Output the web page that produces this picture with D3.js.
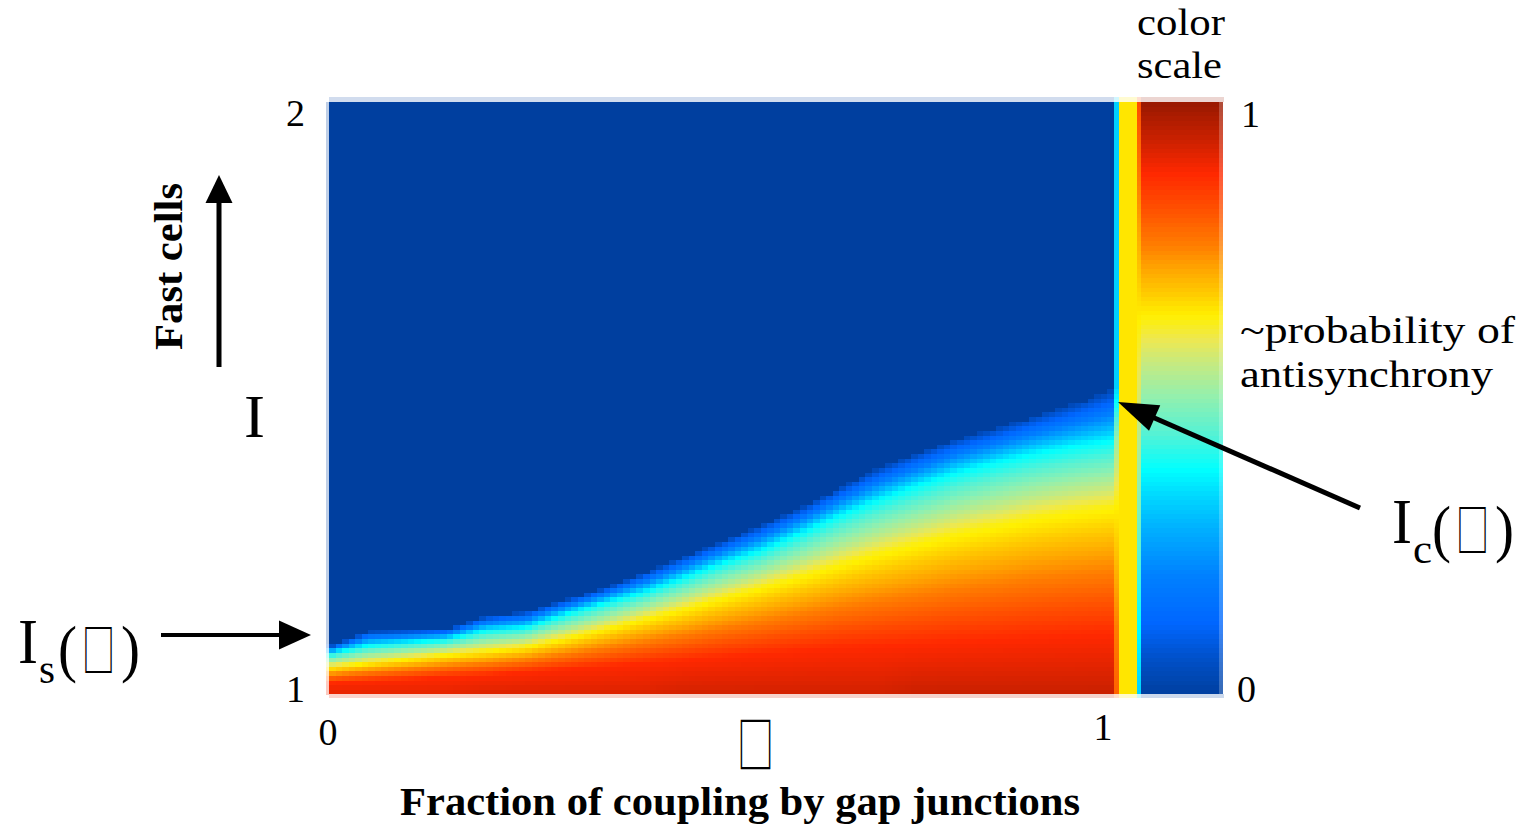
<!DOCTYPE html>
<html>
<head>
<meta charset="utf-8">
<script src="https://cdn.jsdelivr.net/npm/d3@7"></script>
<style>
  html, body { margin: 0; padding: 0; background: #ffffff; overflow: hidden; }
  text { font-family: "Liberation Serif", "Times New Roman", serif; fill: #000; }
</style>
</head>
<body>
<svg id="chart" width="1530" height="829"></svg>
<script>
// Coupling fraction (alpha) sample columns and, for each, the drive I at which
// the probability of antisynchrony reaches given levels.
const alphaCols = [0, 0.05, 0.10, 0.15, 0.20, 0.25, 0.30, 0.35, 0.40, 0.45, 0.50,
                   0.55, 0.60, 0.65, 0.70, 0.75, 0.80, 0.85, 0.90, 0.95, 1.00];
const onsetI  = [1.081, 1.106, 1.108, 1.110, 1.132, 1.139, 1.159, 1.179, 1.204, 1.231, 1.258,
                 1.285, 1.314, 1.348, 1.382, 1.407, 1.431, 1.449, 1.470, 1.490, 1.514];
const cyanI   = [1.069, 1.083, 1.088, 1.093, 1.108, 1.113, 1.135, 1.154, 1.172, 1.196, 1.221,
                 1.243, 1.272, 1.302, 1.329, 1.353, 1.375, 1.392, 1.407, 1.419, 1.429];
const yellowI = [1.046, 1.054, 1.061, 1.068, 1.074, 1.081, 1.095, 1.111, 1.128, 1.145, 1.164,
                 1.182, 1.201, 1.221, 1.240, 1.257, 1.274, 1.287, 1.301, 1.311, 1.319];
const redI    = [1.019, 1.022, 1.025, 1.029, 1.032, 1.037, 1.042, 1.047, 1.052, 1.057, 1.063,
                 1.068, 1.073, 1.078, 1.081, 1.084, 1.088, 1.091, 1.095, 1.098, 1.101];
const baseP   = [0.91, 0.91, 0.91, 0.91, 0.92, 0.92, 0.92, 0.92, 0.92, 0.93, 0.93,
                 0.93, 0.93, 0.93, 0.93, 0.94, 0.94, 0.94, 0.94, 0.94, 0.94];
const levelP  = [0.04, 0.38, 0.63, 0.88];   // probability at onsetI, cyanI, yellowI, redI
const stripP  = 0.65;                        // separator column between map and colour bar

// Colour map
const cmapStops  = [0.00, 0.06, 0.12, 0.20, 0.28, 0.33, 0.38, 0.44, 0.50, 0.56,
                    0.60, 0.64, 0.68, 0.72, 0.76, 0.82, 0.88, 0.94, 1.00];
const cmapColors = ["#003f9f", "#0050c8", "#0066ff", "#0080ff", "#00b0ff", "#00d4ff", "#00ffff",
                    "#55f2d5", "#90f0b0", "#c6ea80", "#eee850", "#fff000", "#ffc800", "#ffa400",
                    "#ff7c00", "#ff5000", "#ff2800", "#c82000", "#981800"];

const xTicks  = [0, 1];
const yTicks  = [1, 2];
const cbTicks = [0, 1];

const nCols = 120, nRows = 128;

const svg = d3.select("#chart");
const x = d3.scaleLinear().domain([0, 1]).range([329, 1114]);
const y = d3.scaleLinear().domain([1, 2]).range([694, 102]);
const cb = d3.scaleLinear().domain([0, 1]).range([694, 102]);
const color = d3.scaleLinear().domain(cmapStops).range(cmapColors)
  .interpolate(d3.interpolateRgb).clamp(true);
const fade = (v, t) => d3.interpolateRgb(color(v), "#ffffff")(t);

const levelAt = [onsetI, cyanI, yellowI, redI].map(arr =>
  d3.scaleLinear().domain(alphaCols).range(arr));
const baseAt = d3.scaleLinear().domain(alphaCols).range(baseP);

function prob(a, I) {
  const on = levelAt[0](a);
  if (I > on) return 0;
  const profile = d3.scaleLinear()
    .domain([1, levelAt[3](a), levelAt[2](a), levelAt[1](a), on])
    .range([baseAt(a), levelP[3], levelP[2], levelP[1], levelP[0]])
    .clamp(true);
  return profile(I);
}

// ---- heat map cells ----
const cells = [];
for (let c = 0; c < nCols; c++) {
  const a0 = c / nCols, a1 = (c + 1) / nCols, ac = (c + 0.5) / nCols;
  let r = 0;
  while (r < nRows) {
    const Ic = 1 + (r + 0.5) / nRows;
    const v = prob(ac, Ic);
    if (v === 0) {
      // merge the uniform region above the boundary into one rect
      cells.push({a0, a1, I0: 1 + r / nRows, I1: 2, v: 0});
      break;
    }
    cells.push({a0, a1, I0: 1 + r / nRows, I1: 1 + (r + 1) / nRows, v});
    r++;
  }
}
const map = svg.append("g").attr("shape-rendering", "crispEdges");
map.selectAll("rect.cell").data(cells).join("rect")
  .attr("class", "cell")
  .attr("x", d => x(d.a0))
  .attr("width", d => x(d.a1) - x(d.a0) + 0.6)
  .attr("y", d => y(d.I1))
  .attr("height", d => y(d.I0) - y(d.I1) + 0.6)
  .attr("fill", d => color(d.v));

// ---- separator strip and colour bar ----
const lastA = 1 - 0.5 / nCols, firstA = 0.5 / nCols;
const rows = d3.range(nRows).map(r => {
  const t0 = r / nRows, t1 = (r + 1) / nRows, tc = (r + 0.5) / nRows;
  return {t0, t1, last: prob(lastA, 1 + tc), first: prob(firstA, 1 + tc), cbv: tc};
});
const columns = [
  {x0: 1114, x1: 1119, f: d => color((d.last + stripP) / 2)},
  {x0: 1119, x1: 1137, f: d => color(stripP)},
  {x0: 1137, x1: 1141, f: d => color((stripP + d.cbv) / 2)},
  {x0: 1141, x1: 1219, f: d => color(d.cbv)},
  {x0: 1219, x1: 1223, f: d => fade(d.cbv, 0.22)},
  {x0: 326,  x1: 329,  f: d => fade(d.first, 0.75)}
];
columns.forEach(col => {
  map.append("g").selectAll("rect").data(rows).join("rect")
    .attr("x", col.x0)
    .attr("width", col.x1 - col.x0)
    .attr("y", d => cb(d.t1))
    .attr("height", d => cb(d.t0) - cb(d.t1) + 0.6)
    .attr("fill", col.f);
});

// soft top / bottom borders of the image
const edgeCols = d3.range(nCols).map(c => ({
  x0: x(c / nCols), x1: x((c + 1) / nCols),
  top: 0, bottom: prob((c + 0.5) / nCols, 1 + 0.5 / nRows)
}));
edgeCols.push({x0: 1114, x1: 1119, top: stripP / 2, bottom: (rows[0].last + stripP) / 2});
edgeCols.push({x0: 1119, x1: 1137, top: stripP, bottom: stripP});
edgeCols.push({x0: 1137, x1: 1141, top: (stripP + 1) / 2, bottom: stripP / 2});
edgeCols.push({x0: 1141, x1: 1223, top: 1, bottom: 0});
map.append("g").selectAll("rect").data(edgeCols).join("rect")
  .attr("x", d => d.x0).attr("width", d => d.x1 - d.x0 + 0.6)
  .attr("y", 97).attr("height", 5)
  .attr("fill", d => fade(d.top, 0.82));
map.append("g").selectAll("rect").data(edgeCols).join("rect")
  .attr("x", d => d.x0).attr("width", d => d.x1 - d.x0 + 0.6)
  .attr("y", 694).attr("height", 4)
  .attr("fill", d => fade(d.bottom, 0.8));

// ---- tick labels ----
const num = svg.append("g").style("font-size", "38px");
num.selectAll("text.xt").data(xTicks).join("text")
  .attr("class", "xt")
  .attr("x", d => d === 0 ? x(d) - 1 : x(d) - 11)
  .attr("y", d => d === 0 ? 745 : 740)
  .attr("text-anchor", "middle")
  .text(d => d);
num.selectAll("text.yt").data(yTicks).join("text")
  .attr("class", "yt")
  .attr("x", 305)
  .attr("y", d => y(d) + (d === 1 ? 8 : 24))
  .attr("text-anchor", "end")
  .text(d => d);
num.selectAll("text.ct").data(cbTicks).join("text")
  .attr("class", "ct")
  .attr("x", d => d === 0 ? 1237 : 1241)
  .attr("y", d => cb(d) + (d === 0 ? 8 : 25))
  .text(d => d);

// ---- labels ----
function label(txt, px, py, size, len, opts = {}) {
  const t = svg.append("text")
    .attr("x", px).attr("y", py)
    .style("font-size", size + "px")
    .attr("textLength", len)
    .attr("lengthAdjust", "spacingAndGlyphs")
    .text(txt);
  if (opts.bold) t.style("font-weight", "bold");
  if (opts.rotate) t.attr("transform", `rotate(-90 ${px} ${py})`);
  return t;
}
label("color", 1137, 35, 38, 88);
label("scale", 1137, 78, 38, 85);
label("~probability of", 1240, 343, 38, 275);
label("antisynchrony", 1240, 387, 38, 253);
label("Fast cells", 182, 350, 40, 167, {bold: true, rotate: true});
label("I", 244, 437, 62, 21);
label("Fraction of coupling by gap junctions", 400, 815, 40, 680, {bold: true});

// glyph box standing for the coupling parameter (squeezed horizontally)
function box(px, py, size, width) {
  svg.append("text")
    .attr("transform", `translate(${px},${py}) scale(${width / size},1)`)
    .style("font-family", "'Noto Sans CJK JP', 'Noto Sans CJK SC', sans-serif")
    .style("font-size", size + "px")
    .text("\u25A1");
}
box(737, 768, 61, 37);

// I_s(.) and I_c(.)
function funcLabel(px, base, sub, boxX) {
  label("I", px, base, 64, 20);
  label(sub, px + 21, base + 20, 40, sub === "s" ? 16 : 19);
  label("(", px + 40, base + 7, 64, 19);
  box(boxX, base + 8, 56, 33);
  label(")", px + 103, base + 7, 64, 19);
}
funcLabel(18, 663, "s", 82);
funcLabel(1392, 543, "c", 1456);

// ---- arrows ----
function arrow(x1, y1, x2, y2, w, headLen, headW) {
  const dx = x2 - x1, dy = y2 - y1, L = Math.hypot(dx, dy);
  const ux = dx / L, uy = dy / L, nx = -uy, ny = ux;
  const bx = x2 - ux * headLen, by = y2 - uy * headLen;
  svg.append("line")
    .attr("x1", x1).attr("y1", y1).attr("x2", bx + ux * 2).attr("y2", by + uy * 2)
    .attr("stroke", "#000").attr("stroke-width", w);
  svg.append("path")
    .attr("d", `M${x2},${y2} L${bx + nx * headW / 2},${by + ny * headW / 2} L${bx - nx * headW / 2},${by - ny * headW / 2} Z`)
    .attr("fill", "#000");
}
arrow(219, 367, 219, 175, 5, 28, 27);
arrow(161, 635, 311, 635, 4, 32, 29);
arrow(1360, 508, 1118, 402, 5, 40, 28);
</script>
</body>
</html>
